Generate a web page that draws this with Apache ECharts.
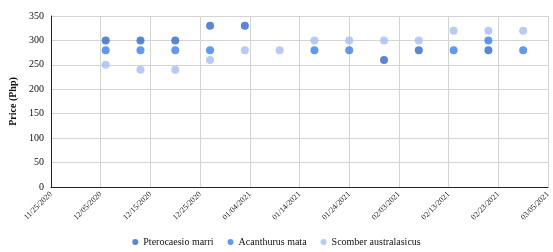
<!DOCTYPE html>
<html>
<head>
<meta charset="utf-8">
<script src="https://cdn.jsdelivr.net/npm/echarts@6/dist/echarts.min.js"></script>
<style>html,body{margin:0;padding:0;background:#fff}#c{width:553px;height:252px}</style>
</head>
<body>
<div id="c"></div>
<script>
var start = Date.UTC(2020, 10, 25);
var dates = ['12/06/2020','12/13/2020','12/20/2020','12/27/2020','01/03/2021','01/10/2021','01/17/2021',
             '01/24/2021','01/31/2021','02/07/2021','02/14/2021','02/21/2021','02/28/2021'];
// null where the point is hidden under another series in the picture
var marri  = [300, 300, 300, 330, 330, null, null, null, 260, 280, null, 280, null];
var mata   = [280, 280, 280, 280, null, null, 280, 280, null, null, 280, 300, 280];
var scomber = [250, 240, 240, 260, 280, 280, 300, 300, 300, 300, 320, 320, 320];
var names = ['Pterocaesio marri', 'Acanthurus mata', 'Scomber australasicus'];
var colors = ['#2E69C9', '#3A80EC', '#A5BEF5'];

function dayOf(s) {
  var p = s.split('/');
  return Math.round((Date.UTC(+p[2], +p[0] - 1, +p[1]) - start) / 86400000);
}
function pad(n) { return (n < 10 ? '0' : '') + n; }
function label(v) {
  var d = new Date(start + v * 86400000);
  return pad(d.getUTCMonth() + 1) + '/' + pad(d.getUTCDate()) + '/' + d.getUTCFullYear();
}
function pts(vals) {
  var out = [];
  dates.forEach(function (d, i) { if (vals[i] != null) out.push([dayOf(d), vals[i]]); });
  return out;
}

var chart = echarts.init(document.getElementById('c'));
var font = '"Liberation Serif", serif';
chart.setOption({
  animation: false,
  color: colors,
  textStyle: { fontFamily: font },
  grid: { left: 51, right: 4, top: 16, bottom: 65 },
  legend: {
    bottom: 0,
    left: 'center',
    icon: 'circle',
    itemWidth: 6, itemHeight: 6, itemGap: 14,
    textStyle: { fontFamily: font, fontSize: 10, color: '#111' },
    data: names
  },
  xAxis: {
    type: 'value', min: 0, max: 100, interval: 10,
    axisLine: { show: true, onZero: false, lineStyle: { color: '#222' } },
    axisTick: { show: false },
    splitLine: { show: true, lineStyle: { color: '#d4d4d4', width: 1 } },
    axisLabel: {
      rotate: 45, fontSize: 8, color: '#222', fontFamily: font, margin: 6,
      formatter: label
    }
  },
  yAxis: {
    type: 'value', min: 0, max: 350, interval: 50,
    name: 'Price (Php)', nameLocation: 'middle', nameGap: 30,
    nameTextStyle: { fontFamily: font, fontSize: 10, fontWeight: 'bold', color: '#111' },
    axisLine: { show: true, lineStyle: { color: '#222' } },
    axisTick: { show: false },
    splitLine: { lineStyle: { color: '#d4d4d4', width: 1 } },
    axisLabel: { fontSize: 10, color: '#111', fontFamily: font, margin: 7 }
  },
  series: [
    { name: names[0], type: 'scatter', symbolSize: 8, data: pts(marri) },
    { name: names[1], type: 'scatter', symbolSize: 8, data: pts(mata) },
    { name: names[2], type: 'scatter', symbolSize: 8, data: pts(scomber) }
  ]
});
</script>
</body>
</html>
